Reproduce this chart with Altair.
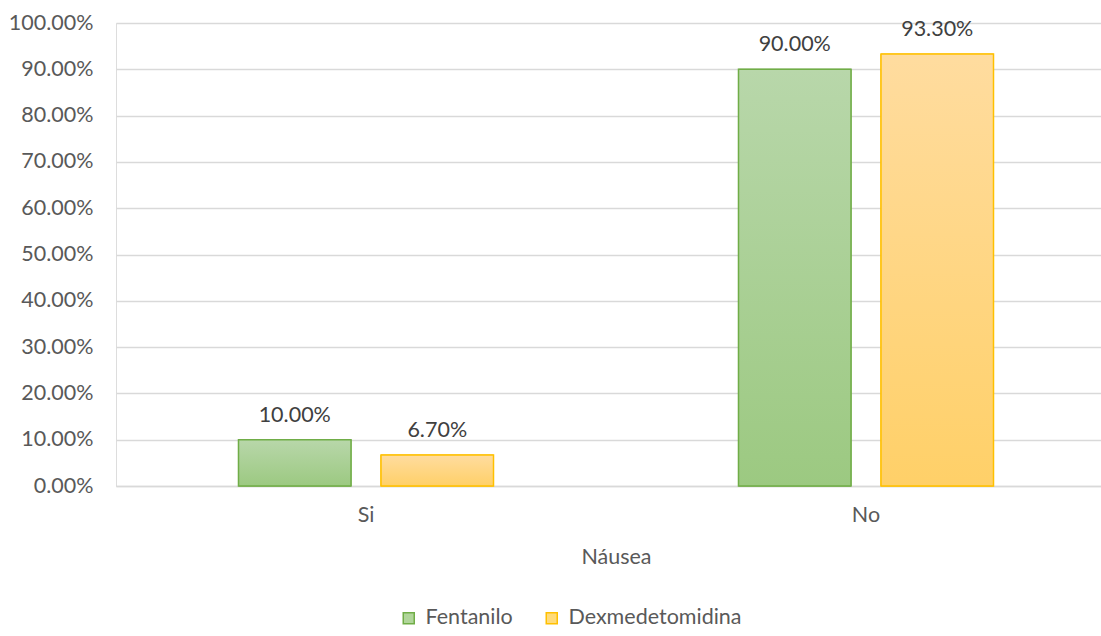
import altair as alt
import pandas as pd

# Nausea incidence by group
categorias = ["Si", "No"]
grupos = ["Fentanilo", "Dexmedetomidina"]
fentanilo = [0.100, 0.900]
dexmedetomidina = [0.067, 0.933]

rows = []
for i, c in enumerate(categorias):
    rows.append({"Náusea": c, "grupo": "Fentanilo", "valor": fentanilo[i]})
    rows.append({"Náusea": c, "grupo": "Dexmedetomidina", "valor": dexmedetomidina[i]})
df = pd.DataFrame(rows)

FONT = "Lato"
FS = 21.5
GRAY = "#595959"

fill_colors = ["#b0d59a", "#ffdb7a"]
stroke_colors = ["#70ad47", "#ffc000"]

grad_green = {
    "gradient": "linear", "x1": 0, "y1": 0, "x2": 0, "y2": 1,
    "stops": [{"offset": 0, "color": "#b8d7aa"}, {"offset": 1, "color": "#9cc981"}],
}
grad_orange = {
    "gradient": "linear", "x1": 0, "y1": 0, "x2": 0, "y2": 1,
    "stops": [{"offset": 0, "color": "#ffdc9f"}, {"offset": 1, "color": "#ffd068"}],
}

x_enc = alt.X(
    "Náusea:N",
    sort=categorias,
    scale=alt.Scale(range=[0, 1000], paddingInner=0, paddingOuter=0),
    axis=alt.Axis(
        title="Náusea", labelAngle=0, ticks=False, domain=True, domainColor="#d9d9d9",
        domainWidth=1.5, labelFont=FONT, labelFontSize=FS, labelColor=GRAY,
        labelPadding=18, titleFont=FONT, titleFontSize=FS, titleColor=GRAY,
        titleFontWeight="normal", titlePadding=21, titleX=500, grid=False,
    ),
)
xoff_enc = alt.XOffset(
    "grupo:N", sort=grupos,
    scale=alt.Scale(paddingInner=0.2105, paddingOuter=0.8596),
)
y_enc = alt.Y(
    "valor:Q",
    scale=alt.Scale(domain=[0, 1]),
    axis=alt.Axis(
        title=None, format=".2%", values=[i / 10 for i in range(11)],
        ticks=False, domain=False, gridColor="#d9d9d9", gridWidth=1.5,
        labelFont=FONT, labelFontSize=FS, labelColor=GRAY, labelPadding=23,
    ),
)

base = alt.Chart(df).encode(x=x_enc, xOffset=xoff_enc, y=y_enc)

legend_bars = base.mark_bar().encode(
    fill=alt.Fill(
        "grupo:N", sort=grupos,
        scale=alt.Scale(domain=grupos, range=fill_colors),
        legend=alt.Legend(
            title=None, orient="none", direction="horizontal",
            legendX=282, legendY=584, symbolType="square", symbolSize=121,
            symbolStrokeWidth=1.5, labelFont=FONT, labelFontSize=FS,
            labelColor=GRAY, labelOffset=6, columnPadding=28, labelLimit=0,
        ),
    ),
    stroke=alt.Stroke(
        "grupo:N", sort=grupos,
        scale=alt.Scale(domain=grupos, range=stroke_colors),
    ),
)

bars = base.mark_bar(strokeWidth=1.5).encode(
    fill=alt.condition("datum.grupo === 'Fentanilo'", alt.value(grad_green), alt.value(grad_orange)),
    stroke=alt.condition("datum.grupo === 'Fentanilo'", alt.value(stroke_colors[0]), alt.value(stroke_colors[1])),
)

labels = base.mark_text(
    font=FONT, fontSize=FS, color="#404040", baseline="alphabetic", dy=-18,
).encode(text=alt.Text("valor:Q", format=".2%"))

chart = (
    alt.layer(legend_bars, bars, labels)
    .properties(
        width=985, height=463,
        autosize=alt.AutoSizeParams(type="none"),
        padding={"left": 116, "top": 23, "right": 0, "bottom": 150},
    )
    .configure_view(stroke=None)
    .configure(background="white")
)

chart.save("out.html", embed_options={"renderer": "svg", "actions": False})
